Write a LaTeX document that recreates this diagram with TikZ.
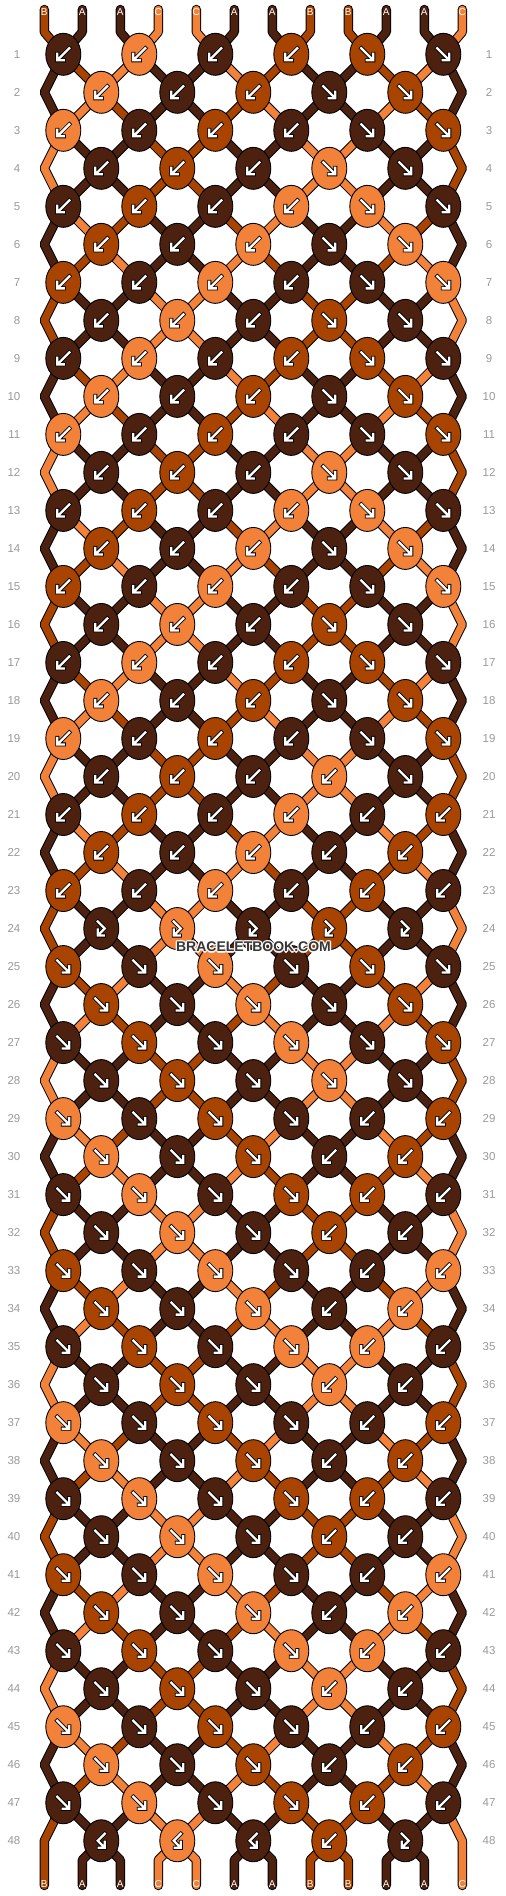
\documentclass[tikz,border=0pt]{standalone}
\usepackage{fontspec}
\setmainfont{Liberation Sans}
\usetikzlibrary{shapes.geometric,calc}
\definecolor{strA}{HTML}{4C2110}
\definecolor{strB}{HTML}{A94400}
\definecolor{strC}{HTML}{F2823A}
\definecolor{numgray}{HTML}{9A9A9A}
\definecolor{rulegray}{HTML}{C3C3C3}
\definecolor{wmgray}{HTML}{363636}
\pgfdeclarelayer{grid}
\pgfdeclarelayer{threads}
\pgfsetlayers{grid,threads,main}

\newcommand\defstate[2]{%
  \foreach \lt [count=\ix] in {#2} {\expandafter\xdef\csname st#1-\ix\endcsname{\lt}}}
\newcommand\defrow[2]{%
  \foreach \kt [count=\ix] in {#2} {\expandafter\xdef\csname ty#1-\ix\endcsname{\kt}}}
\newcommand\icopath[1]{\draw[icoline] #1; \draw[icofill] #1;}
\newcommand\stateof[1]{\ifcase\numexpr#1\relax 0\or 1\or 2\or 3\or 3\or 2\or 1\or 0\fi}

% string order after each row (repeats every 8 rows)
\defstate{0}{B,A,A,C,C,A,A,B,B,A,A,C}
\defstate{1}{A,B,C,A,A,C,B,A,A,B,C,A}
\defstate{2}{A,C,B,A,A,B,C,A,A,C,B,A}
\defstate{3}{C,A,A,B,B,A,A,C,C,A,A,B}

% knot types: L backward, R forward, F forward-backward, G backward-forward
\foreach \row in {1,3,...,19} {\defrow{\row}{L,L,L,L,R,R}}
\foreach \row in {2,4,...,18} {\defrow{\row}{L,L,L,R,R}}
\defrow{20}{L,L,L,L,R}
\defrow{21}{L,L,L,L,L,L}
\defrow{22}{L,L,L,L,L}
\defrow{23}{L,L,L,L,L,L}
\defrow{24}{F,F,F,F,F}
\defrow{25}{R,R,R,R,R,R}
\defrow{26}{R,R,R,R,R}
\defrow{27}{R,R,R,R,R,R}
\defrow{28}{R,R,R,R,R}
\foreach \row in {29,31,...,47} {\defrow{\row}{R,R,R,R,L,L}}
\foreach \row in {30,32,...,46} {\defrow{\row}{R,R,R,L,L}}
\defrow{48}{G,G,G,L,F}

\tikzset{
  knot/.style={ellipse, draw=black, line width=0.9pt, minimum width=35pt, minimum height=42pt, inner sep=0pt},
  thread/.style={draw=black, line width=9.4pt, line cap=round, line join=bevel},
  threadfill/.style={line width=7.4pt, line cap=round, line join=bevel},
  rownum/.style={text=numgray, font=\fontsize{11.5}{12}\selectfont, inner sep=0pt},
  strlab/.style={text=white, font=\fontsize{10}{10}\selectfont, inner sep=0pt},
  rowrule/.style={draw=rulegray, line width=0.9pt},
  wmark/.style={text=wmgray, font=\fontsize{14}{14}\selectfont\bfseries, inner sep=0pt},
  icoline/.style={draw=black, line width=4pt, line cap=rect, line join=miter},
  icofill/.style={draw=white, line width=2.3pt, line cap=rect, line join=miter},
  pics/icoL/.style={code={\icopath{(6,-6) -- (-5,5) (-6,-0.5) -- (-6,6) -- (0.5,6)}}},
  pics/icoR/.style={code={\icopath{(-6,-6) -- (5,5) (6,-0.5) -- (6,6) -- (-0.5,6)}}},
  pics/icoF/.style={code={\icopath{(-3.5,-7) -- (3.5,0) -- (-2.7,6.2) (-3.5,1) -- (-3.5,7) -- (2.5,7)}}},
  pics/icoG/.style={code={\icopath{(3.5,-7) -- (-3.5,0) -- (2.7,6.2) (3.5,1) -- (3.5,7) -- (-2.5,7)}}},
}

\begin{document}
\begin{tikzpicture}[x=1pt,y=-1pt]
  \useasboundingbox (0,0) rectangle (506,1896);

  % knots, row numbers and rules
  \foreach \row in {1,...,48} {
    \pgfmathsetmacro\yy{54.3+38.01*(\row-1)}
    \pgfmathtruncatemacro\m{mod(\row-1,8)}
    \edef\stb{\stateof{\m}}
    \ifodd\row \def\nk{6}\def\sh{1}\else \def\nk{5}\def\sh{0}\fi
    \node[rownum, anchor=east] (numL\row) at (20.5,\yy) {\row};
    \node[rownum] (numR\row) at (489,\yy) {\row};
    \coordinate (ruleR\row) at (479.5,\yy);
    \begin{pgfonlayer}{grid}
      \draw[rowrule] ([xshift=5.5pt]numL\row.east) -- (ruleR\row);
    \end{pgfonlayer}
    \foreach \kj in {1,...,\nk} {
      \pgfmathtruncatemacro\p{2*\kj-\sh}
      \edef\ty{\csname ty\row-\kj\endcsname}
      \def\q{\p}
      \if L\ty \pgfmathtruncatemacro\q{\p+1}\fi
      \if G\ty \pgfmathtruncatemacro\q{\p+1}\fi
      \edef\col{\csname st\stb-\q\endcsname}
      \node[knot, fill=str\col] (k\row-\kj) at ({25.3+38*\p},\yy) {};
      \pic at (k\row-\kj) {ico\ty};
    }
  }

  % string ends
  \foreach \p in {1,...,12} {
    \edef\lt{\csname st0-\p\endcsname}
    \coordinate (top\p) at ({6.3+38*\p},9.5);
    \coordinate (topb\p) at ({6.3+38*\p},32);
    \coordinate (bot\p) at ({6.3+38*\p},1885.5);
    \coordinate (botb\p) at ({6.3+38*\p},1860);
    \node[strlab] (labT\p) at ({6.3+38*\p},12.3) {\lt};
    \node[strlab] (labB\p) at ({6.3+38*\p},1884) {\lt};
  }

  \begin{pgfonlayer}{grid}
    \fill[white] (0,0) rectangle (506,1896);
  \end{pgfonlayer}

  \begin{pgfonlayer}{threads}
    % top and bottom stubs
    \foreach \p in {1,...,12} {
      \pgfmathtruncatemacro\kj{(\p+1)/2}
      \edef\col{\csname st0-\p\endcsname}
      \draw[thread] (top\p) -- (topb\p) -- (k1-\kj.center);
      \draw[threadfill, draw=str\col] (top\p) -- (topb\p) -- (k1-\kj.center);
    }
    \foreach \p in {2,...,11} {
      \pgfmathtruncatemacro\kj{\p/2}
      \edef\col{\csname st0-\p\endcsname}
      \draw[thread] (k48-\kj.center) -- (botb\p) -- (bot\p);
      \draw[threadfill, draw=str\col] (k48-\kj.center) -- (botb\p) -- (bot\p);
    }
    % between rows
    \foreach \row in {1,...,47} {
      \pgfmathtruncatemacro\m{mod(\row,8)}
      \edef\sta{\stateof{\m}}
      \pgfmathtruncatemacro\rn{\row+1}
      \foreach \p in {2,...,11} {
        \ifodd\row
          \pgfmathtruncatemacro\ja{(\p+1)/2}
          \pgfmathtruncatemacro\jb{\p/2}
        \else
          \pgfmathtruncatemacro\ja{\p/2}
          \pgfmathtruncatemacro\jb{(\p+1)/2}
        \fi
        \edef\col{\csname st\sta-\p\endcsname}
        \draw[thread] (k\row-\ja.center) -- (k\rn-\jb.center);
        \draw[threadfill, draw=str\col] (k\row-\ja.center) -- (k\rn-\jb.center);
      }
    }
    % edge strings
    \foreach \row in {2,4,...,48} {
      \pgfmathsetmacro\yy{54.3+38.01*(\row-1)}
      \pgfmathtruncatemacro\rp{\row-1}
      \pgfmathtruncatemacro\m{mod(\row-1,8)}
      \edef\stb{\stateof{\m}}
      \edef\colL{\csname st\stb-1\endcsname}
      \edef\colR{\csname st\stb-12\endcsname}
      \coordinate (edgeL\row) at (44.3,\yy);
      \coordinate (edgeR\row) at (462.3,\yy);
      \ifnum\row<48
        \pgfmathtruncatemacro\rn{\row+1}
        \edef\nxL{k\rn-1.center}\edef\nxR{k\rn-6.center}
      \else
        \def\nxL{bot1}\def\nxR{bot12}
      \fi
      \draw[thread] (k\rp-1.center) -- (edgeL\row) -- (\nxL);
      \draw[threadfill, draw=str\colL] (k\rp-1.center) -- (edgeL\row) -- (\nxL);
      \draw[thread] (k\rp-6.center) -- (edgeR\row) -- (\nxR);
      \draw[threadfill, draw=str\colR] (k\rp-6.center) -- (edgeR\row) -- (\nxR);
    }
  \end{pgfonlayer}

  % watermark
  \coordinate (wmc) at (253.5,947);
  \foreach \a in {0,45,...,315}
    \node[wmark, text=white, opacity=0.8] (wmh\a) at ($(wmc)+(\a:1.3)$) {BRACELETBOOK.COM};
  \node[wmark] (wm) at (wmc) {BRACELETBOOK.COM};
\end{tikzpicture}
\end{document}
